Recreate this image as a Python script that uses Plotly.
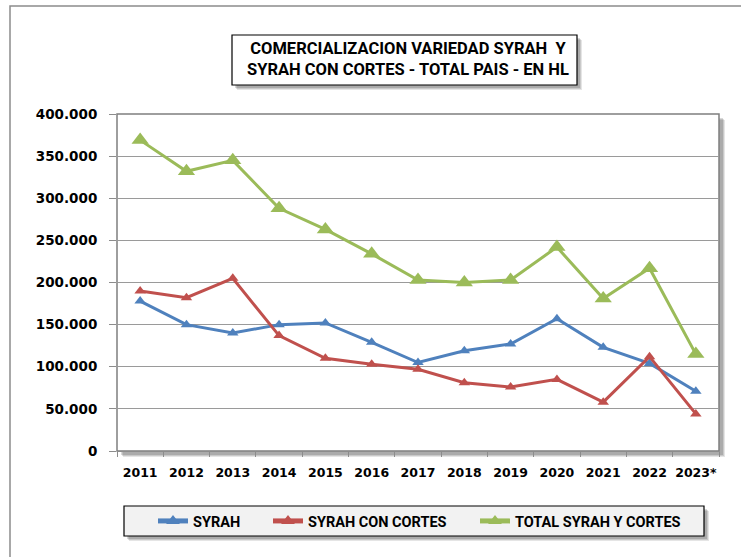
import plotly.graph_objects as go

years = ["2011", "2012", "2013", "2014", "2015", "2016", "2017", "2018", "2019", "2020", "2021", "2022", "2023*"]
syrah = [178000, 150000, 140000, 150000, 152000, 129000, 105000, 119000, 127000, 157000, 123000, 104000, 71000]
syrah_cortes = [190000, 182000, 205000, 137000, 110000, 103000, 97000, 81000, 76000, 85000, 58000, 112000, 44000]
total = [369000, 332000, 345000, 288000, 263000, 234000, 203000, 200000, 203000, 242000, 181000, 217000, 115000]
names = ["SYRAH", "SYRAH CON CORTES", "TOTAL SYRAH Y CORTES"]

W, H = 741, 557
L, R, T, B = 117, 719, 114, 451

def px(x):
    return (x - L) / (R - L)

def py(y):
    return (B - y) / (B - T)

FONT = "Roboto, Liberation Sans, sans-serif"
TICKFONT = "DejaVu Sans"

fig = go.Figure()
series = [syrah, syrah_cortes, total]
colors = ["#4f81bd", "#c0504d", "#9bbb59"]
msizes = [10, 10, 15]
legends = ["legend", "legend2", "legend3"]
for nm, vals, c, ms, lg in zip(names, series, colors, msizes, legends):
    fig.add_trace(go.Scatter(x=years, y=vals, name=nm, mode="lines+markers", legend=lg,
                             line=dict(color=c, width=3),
                             marker=dict(symbol="triangle-up", size=ms, color=c)))

shapes = []
# outer chart border
shapes.append(dict(type="rect", xref="paper", yref="paper", x0=px(10), x1=px(760), y0=py(580), y1=py(6),
                   line=dict(color="#8c8c8c", width=1.5), fillcolor="white", layer="below"))

def shadow(x0, y0, x1, y1, off=4):
    out = []
    for i, op in enumerate([0.10, 0.12, 0.15]):
        o = off - i
        out.append(dict(type="rect", xref="paper", yref="paper",
                        x0=px(x0 + o + 1), x1=px(x1 + o + 1), y0=py(y1 + o + 1), y1=py(y0 + o + 1),
                        line=dict(width=0), fillcolor="rgba(0,0,0,%.2f)" % op, layer="below"))
    return out

# plot area shadow + box
shapes += shadow(L, T, R, B, 5)
shapes.append(dict(type="rect", xref="paper", yref="paper", x0=0, x1=1, y0=0, y1=1,
                   line=dict(color="#7f7f7f", width=1.5), fillcolor="white", layer="below"))
# title box
tx0, ty0, tx1, ty1 = 232, 35, 577, 85
shapes += shadow(tx0, ty0, tx1, ty1, 4)
shapes.append(dict(type="rect", xref="paper", yref="paper", x0=px(tx0), x1=px(tx1), y0=py(ty1), y1=py(ty0),
                   line=dict(color="black", width=1.2), fillcolor="white", layer="below"))
# legend box
lx0, ly0, lx1, ly1 = 124, 506, 704, 536
shapes += shadow(lx0, ly0, lx1, ly1, 4)
shapes.append(dict(type="rect", xref="paper", yref="paper", x0=px(lx0), x1=px(lx1), y0=py(ly1), y1=py(ly0),
                   line=dict(color="black", width=1.2), fillcolor="#f2f2f2", layer="below"))

legfont = dict(family=FONT, size=14.5, color="black", weight="bold")
leg_x = [153, 268, 475]
legend_cfg = {}
for lg, x in zip(legends, leg_x):
    legend_cfg[lg] = dict(orientation="h", x=px(x), y=py(521), xanchor="left", yanchor="middle",
                          bgcolor="rgba(0,0,0,0)", borderwidth=0, font=legfont, itemsizing="constant")

fig.update_layout(
    width=W, height=H,
    margin=dict(l=L, r=W - R, t=T, b=H - B, pad=0),
    paper_bgcolor="white",
    plot_bgcolor="rgba(0,0,0,0)",
    separators=",.",
    shapes=shapes,
    showlegend=True,
    annotations=[dict(text="COMERCIALIZACION VARIEDAD SYRAH  Y<br>SYRAH CON CORTES - TOTAL PAIS - EN HL",
                      xref="paper", yref="paper", x=px((tx0 + tx1) / 2 + 3), y=py((ty0 + ty1) / 2 - 1),
                      xanchor="center", yanchor="middle", showarrow=False, align="center",
                      font=dict(family=FONT, size=16.5, color="black", weight="bold"))],
    xaxis=dict(type="category", showgrid=False, ticks="outside", tickson="boundaries", ticklen=5,
               tickcolor="#8c8c8c", showline=True, linecolor="#8c8c8c", linewidth=1,
               tickangle=0, automargin=False, ticklabelstandoff=10,
               tickfont=dict(family=TICKFONT, size=12.5, color="black", weight="bold"),
               range=[-0.5, 12.5]),
    yaxis=dict(range=[0, 400000], dtick=50000, tickformat=",.0f", showgrid=True,
               gridcolor="#9a9a9a", gridwidth=1, ticks="outside", ticklen=7, tickcolor="#8c8c8c",
               zeroline=False, showline=False, automargin=False, ticklabelstandoff=9,
               tickfont=dict(family=TICKFONT, size=13.5, color="black", weight="bold")),
    **legend_cfg,
)

fig.write_html("out.html", config={"displayModeBar": False},
               post_script="document.body.style.margin='0px';document.body.style.padding='0px';")
